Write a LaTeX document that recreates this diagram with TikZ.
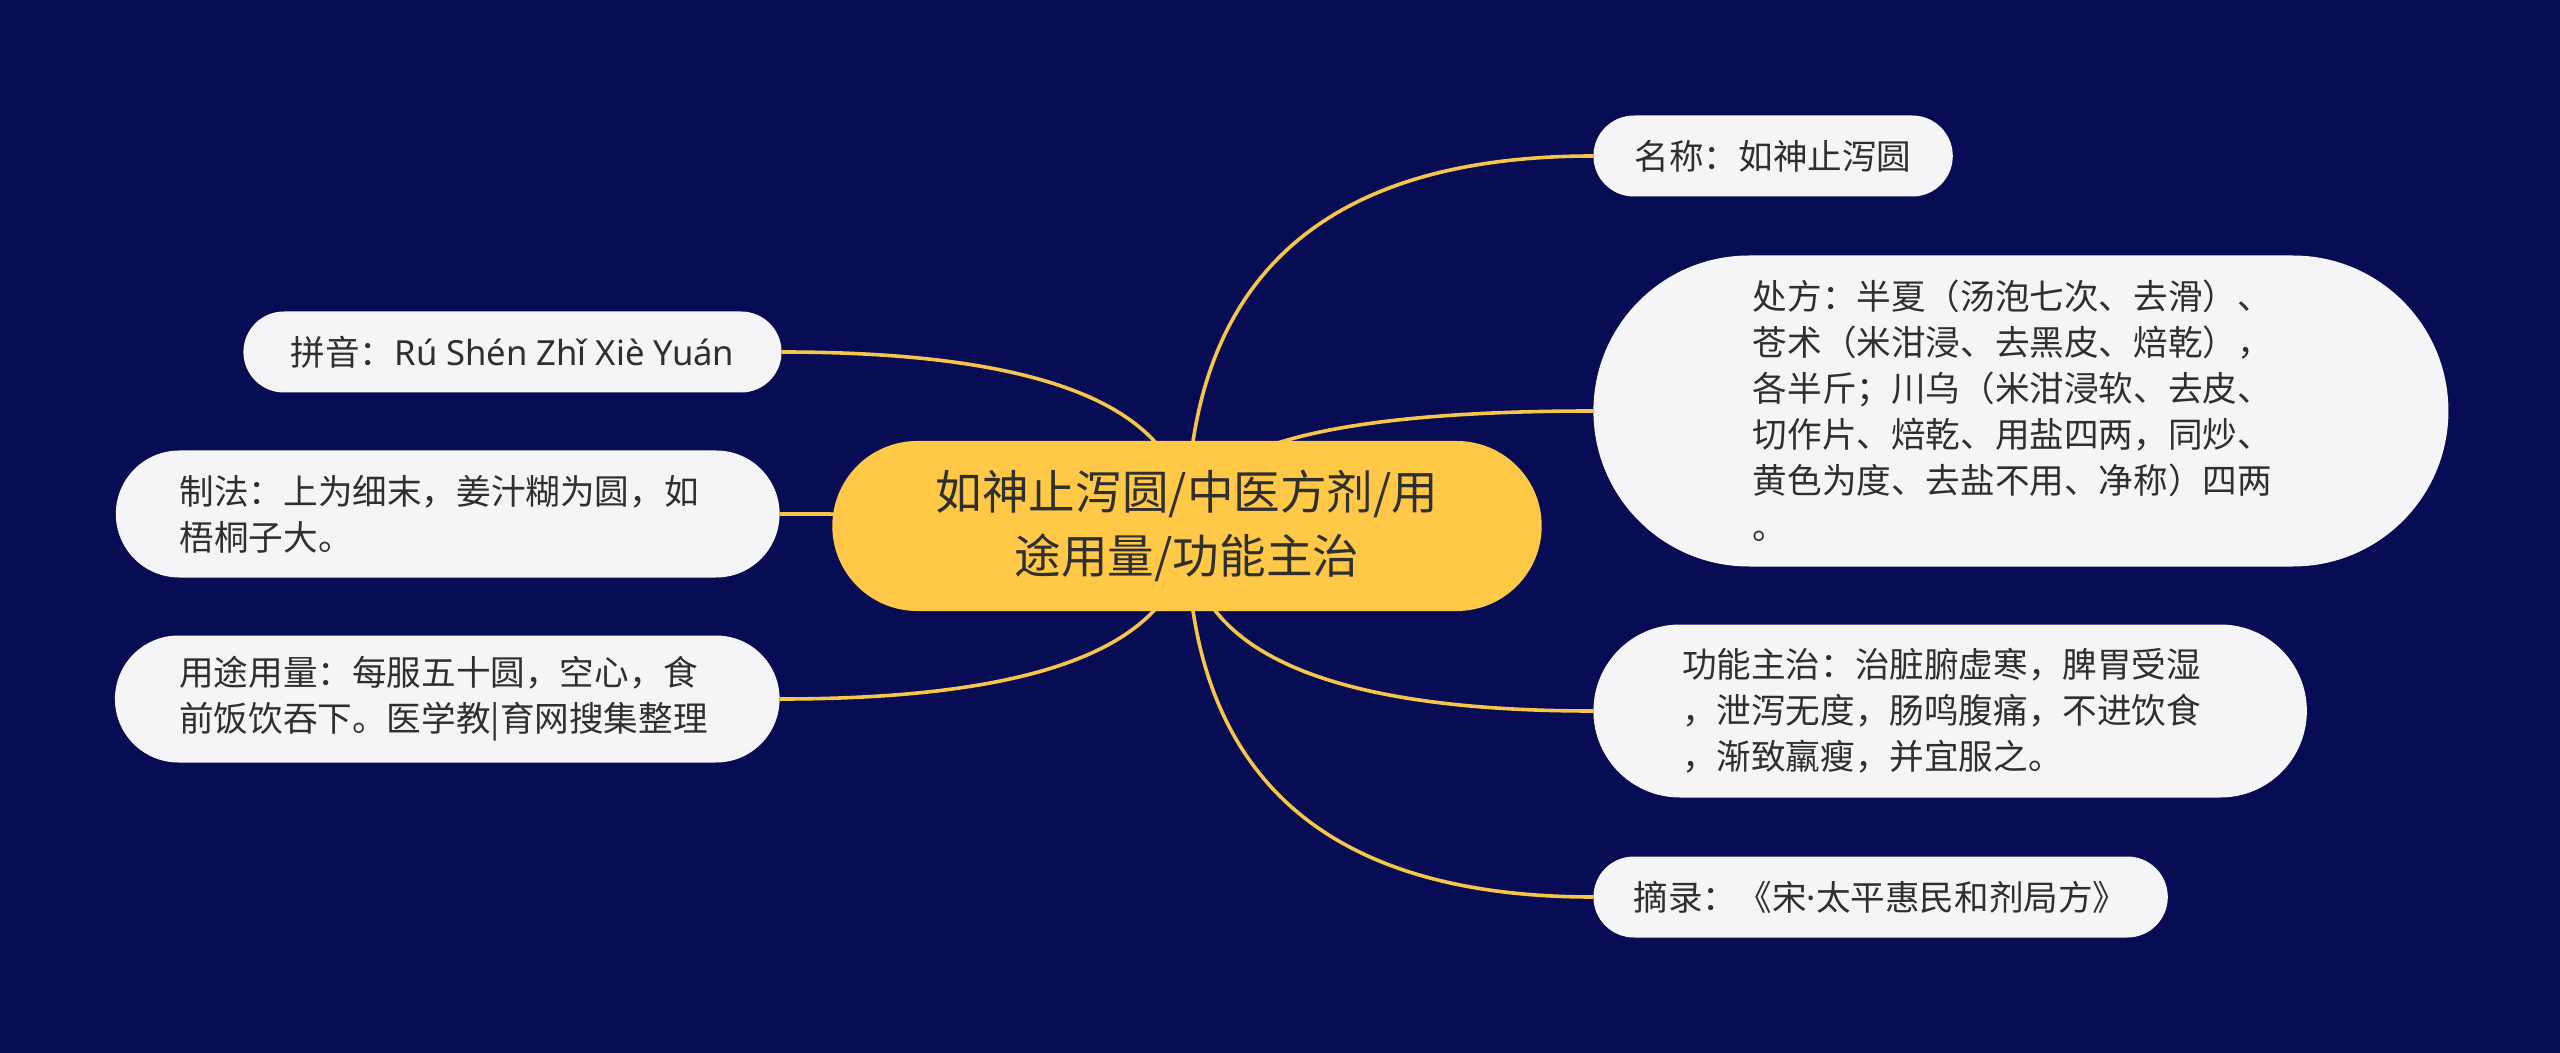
\documentclass[tikz,border=0pt]{standalone}
\usepackage{fontspec}
\setmainfont{Noto Sans CJK SC}
\newfontfamily\latinfont{Noto Sans}
\usetikzlibrary{shapes.misc,calc,backgrounds}
\definecolor{navy}{HTML}{070C55}
\definecolor{hubfill}{HTML}{FFC947}
\definecolor{leaffill}{HTML}{F5F5F7}
\definecolor{linkc}{HTML}{F6C64A}
\definecolor{inkc}{HTML}{2F2F2F}
\newcommand{\leaffont}{\fontsize{17.3pt}{23pt}\selectfont}
\newcommand{\hubfont}{\fontsize{23.3pt}{32pt}\selectfont}

\begin{document}
\begin{tikzpicture}[x=0.5pt,y=-0.5pt]
  \tikzstyle{hubbox}=[rounded rectangle,fill=hubfill,text=inkc,font=\hubfont,align=center,inner xsep=41.25pt,inner ysep=2pt,minimum height=85pt]
  \tikzstyle{leaf}=[rounded rectangle,fill=leaffill,text=inkc,font=\leaffont,align=left,inner xsep=19pt,inner ysep=2pt,minimum height=40.5pt]
  \tikzstyle{wide}=[text width=268pt]
  \tikzstyle{branch}=[draw=linkc,line width=1.8pt,to path={.. controls ($(\tikztostart)!0.667!(\tikztostart |- \tikztotarget)$) and ($(\tikztotarget)!0.667!(\tikztostart |- \tikztotarget)$) .. (\tikztotarget)}]
  \useasboundingbox (0,0) rectangle (2560,1053);
  \node[hubbox] (hub) at (1187,526) {如神止泻圆/中医方剂/用\\途用量/功能主治};
  % right side
  \node[leaf,anchor=west] (ming) at (1593,156) {名称：如神止泻圆};
  \node[leaf,wide,anchor=west,minimum height=155.5pt,inner xsep=44pt] (chufang) at (1593,411) {处方：半夏（汤泡七次、去滑）、\\苍术（米泔浸、去黑皮、焙乾），\\各半斤；川乌（米泔浸软、去皮、\\切作片、焙乾、用盐四两，同炒、\\黄色为度、去盐不用、净称）四两\\。};
  \node[leaf,wide,anchor=west,minimum height=86.5pt,inner xsep=31pt] (gongneng) at (1593,711) {功能主治：治脏腑虚寒，脾胃受湿\\，泄泻无度，肠鸣腹痛，不进饮食\\，渐致羸瘦，并宜服之。};
  \node[leaf,anchor=west,inner xsep=18.5pt] (zhailu) at (1593,897) {摘录：《宋{\latinfont ·}太平惠民和剂局方》};
  % left side
  \node[leaf,anchor=east,inner xsep=22pt] (pinyin) at (782,352) {拼音：{\latinfont Rú Shén Zhǐ Xiè Yuán}};
  \node[leaf,wide,anchor=east,minimum height=63.5pt,inner xsep=25.25pt] (zhifa) at (780,514) {制法：上为细末，姜汁糊为圆，如\\梧桐子大。};
  \node[leaf,wide,anchor=east,minimum height=63.5pt,inner xsep=24pt] (yongtu) at (780,699) {用途用量：每服五十圆，空心，食\\前饭饮吞下。医学教|育网搜集整理};
  \begin{scope}[on background layer]
    \fill[navy] (0,0) rectangle (2560,1053);
    \draw[branch] (hub.center) to (ming.west);
    \draw[branch] (hub.center) to (chufang.west);
    \draw[branch] (hub.center) to (gongneng.west);
    \draw[branch] (hub.center) to (zhailu.west);
    \draw[branch] (hub.center) to (pinyin.east);
    \draw[branch] (hub.center) to (zhifa.east);
    \draw[branch] (hub.center) to (yongtu.east);
  \end{scope}
\end{tikzpicture}
\end{document}
